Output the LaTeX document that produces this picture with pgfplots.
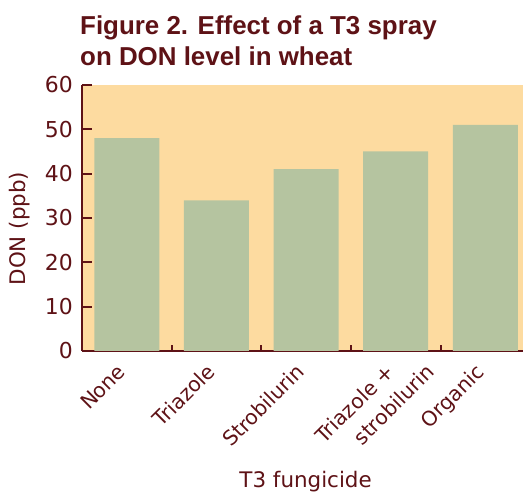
\documentclass[border=0pt]{standalone}
\usepackage{fontspec}
\setmainfont{DejaVu Sans}
\newfontfamily\titlefont{Liberation Sans}
\usepackage{pgfplots}
\pgfplotsset{compat=1.18}
\definecolor{maroon}{HTML}{5E1216}
\definecolor{peach}{HTML}{FDDBA0}
\definecolor{sage}{HTML}{B5C4A0}
\pgfplotstableread{
x val
0 48
1 34
2 41
3 45
4 51
}\dontable
\begin{document}
\begin{tikzpicture}[x=1bp,y=1bp]
\begin{axis}[
  at={(0,0)}, anchor=south west,
  scale only axis, width=441bp, height=266bp,
  xmin=-0.5, xmax=4.42, ymin=0, ymax=60,
  axis x line*=bottom, axis y line*=left,
  axis line style={maroon, line width=2.2bp},
  axis background/.style={fill=peach},
  ytick={0,10,...,60},
  tick align=inside,
  major tick length=10bp,
  ytick style={draw=maroon, line width=2.2bp},
  xtick={0,1,2,3,4},
  xticklabels={None,Triazole,Strobilurin,Triazole +,Organic},
  xtick style={draw=none},
  extra x ticks={0.5,1.5,2.5,3.5},
  extra x tick labels={},
  extra x tick style={major tick length=6bp, xtick style={draw=maroon, line width=2bp}},
  /pgf/number format/assume math mode=true,
  yticklabel style={text=maroon, font=\fontsize{22}{26}\selectfont, anchor=east, inner sep=0pt},
  yticklabel shift=9bp,
  xticklabel style={text=maroon, font=\fontsize{20.5}{24}\selectfont, rotate=45, anchor=base east, inner sep=0pt},
  xticklabel shift=22bp,
  ylabel={DON (ppb)},
  ylabel style={at={(axis description cs:-0.1406,0.46)}, anchor=center, text=maroon, font=\fontsize{21.5}{25}\selectfont},
  xlabel={T3 fungicide},
  xlabel style={at={(axis description cs:0.507,-0.515)}, anchor=base, text=maroon, font=\fontsize{21.5}{25}\selectfont},
  clip=false,
]
\addplot[ybar, bar width=65bp, fill=sage, draw=none] table[x=x, y=val] {\dontable};
\path (axis cs:3,0) ++(40bp,-22bp) node[rotate=45, anchor=base east, inner sep=0pt, text=maroon, font=\fontsize{20.5}{24}\selectfont] {strobilurin};
\end{axis}
\node[anchor=base west, inner sep=0, text=maroon, font=\titlefont\bfseries\fontsize{26}{31}\selectfont] at (-2,316) {Figure 2. Effect of a T3 spray};
\node[anchor=base west, inner sep=0, text=maroon, font=\titlefont\bfseries\fontsize{26}{31}\selectfont] at (-2,285) {on DON level in wheat};
\pgfresetboundingbox
\useasboundingbox (-82,-143) rectangle (441,351);
\end{tikzpicture}
\end{document}
